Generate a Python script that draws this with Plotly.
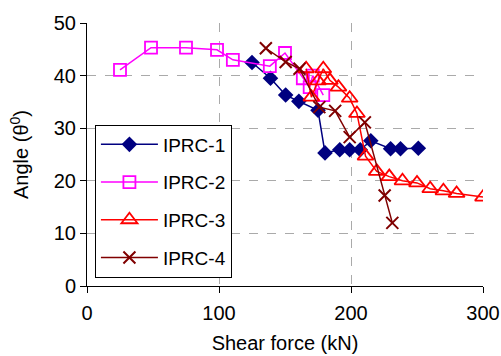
import plotly.graph_objects as go

# IPRC-1
x1 = [125, 139, 150.5, 160.5, 175, 180.3, 191.5, 199, 207, 215, 230, 237.5, 251]
y1 = [42.5, 39.5, 36.3, 35.1, 33.4, 25.3, 25.9, 25.9, 25.9, 27.6, 26.1, 26.1, 26.2]
# IPRC-2
x2 = [25, 48.5, 75, 98.5, 110.5, 138.5, 150, 163.5, 168.7, 171, 179]
y2 = [41.1, 45.3, 45.3, 44.9, 43.0, 41.8, 44.3, 39.5, 37.8, 40.0, 36.3]
# IPRC-3
x3 = [166, 170, 175, 179, 184, 190.5, 199, 204.5, 211, 219.5, 229, 239, 250, 260, 270, 280, 300]
y3 = [41.3, 35.9, 39.0, 41.3, 39.1, 37.8, 35.7, 32.8, 24.7, 21.8, 20.8, 20.0, 19.6, 18.5, 18.1, 17.6, 16.9]
# IPRC-4
x4 = [135.5, 150.5, 161, 176, 188, 199, 210.5, 225.5, 231.3]
y4 = [45.2, 42.6, 41.3, 34.0, 33.3, 28.3, 31.1, 17.2, 12.0]

names = ["IPRC-1", "IPRC-2", "IPRC-3", "IPRC-4"]
xticks = [0, 100, 200, 300]
yticks = [0, 10, 20, 30, 40, 50]

FONT = "Liberation Sans, Arial, sans-serif"

fig = go.Figure()
fig.add_trace(go.Scatter(x=x1, y=y1, name=names[0], mode="lines+markers", legendgroup="a",
                         line=dict(color="#000080", width=1.5),
                         marker=dict(symbol="diamond", size=12, color="#000080")))
fig.add_trace(go.Scatter(x=x2, y=y2, name=names[1], mode="lines+markers", legendgroup="b",
                         line=dict(color="#FF00FF", width=1.5),
                         marker=dict(symbol="square-open", size=12, color="#FF00FF", line=dict(width=1.8))))
fig.add_trace(go.Scatter(x=x3, y=y3, name=names[2], mode="lines+markers", legendgroup="c",
                         line=dict(color="#FF0000", width=1.5),
                         marker=dict(symbol="triangle-up-open", size=14, color="#FF0000", line=dict(width=1.8))))
fig.add_trace(go.Scatter(x=x4, y=y4, name=names[3], mode="lines+markers", legendgroup="d",
                         line=dict(color="#800000", width=1.5),
                         marker=dict(symbol="x-thin-open", size=12, color="#800000", line=dict(width=2, color="#800000"))))

axis_common = dict(showline=True, linecolor="black", linewidth=1, ticks="outside", ticklen=6,
                   tickcolor="black", showgrid=True, gridcolor="#AAAAAA", griddash="dash",
                   gridwidth=1, zeroline=False, automargin=False,
                   tickfont=dict(size=20, color="black", family=FONT),
                   title_font=dict(size=20, color="black", family=FONT))

fig.update_xaxes(range=[0, 300], tickvals=xticks, title_text="Shear force (kN)",
                 title_standoff=12, ticklabelstandoff=3, **axis_common)
fig.update_yaxes(range=[0, 50], tickvals=yticks, title_text="Angle (θ<sup>0</sup>)",
                 title_standoff=19, **axis_common)

fig.update_layout(
    width=501, height=356,
    margin=dict(l=87, r=18, t=23, b=70),
    paper_bgcolor="white", plot_bgcolor="white",
    font=dict(family=FONT, size=18, color="black"),
    legend=dict(x=0.02, y=0.614, xanchor="left", yanchor="top",
                bgcolor="white", bordercolor="black", borderwidth=1,
                font=dict(size=19, family=FONT, color="black"),
                tracegroupgap=10, traceorder="grouped", itemwidth=57),
)

fig.write_html("out.html", config={"displayModeBar": False},
               post_script="document.body.style.margin='0px';document.body.style.overflow='hidden';")
